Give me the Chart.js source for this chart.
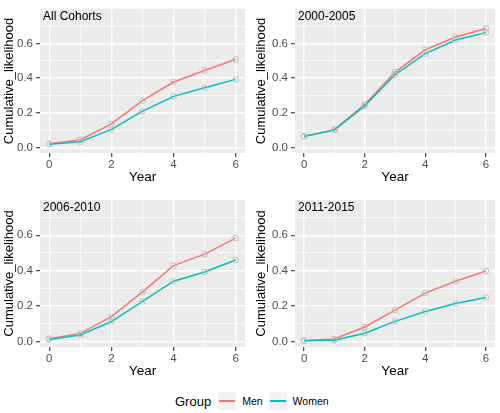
<!DOCTYPE html>
<html>
<head>
<meta charset="utf-8">
<script src="https://cdn.jsdelivr.net/npm/chart.js@4"></script>
<style>
    body { margin: 0; background: #fff; }
    #wrap { position: relative; width: 500px; height: 413px; overflow: hidden; font-family: 'Liberation Sans', Arial, sans-serif; }
    canvas { position: absolute; }
    #legend { position: absolute; left: 175px; top: 392px; height: 18px; display: flex; align-items: center; }
    #legend .ttl { font-size: 13px; color: #000; margin-right: 7px; }
    #legend .key { width: 18px; height: 18px; background: #F2F2F2; position: relative; margin-right: 6px; }
    #legend .key span { position: absolute; left: 1px; right: 1px; top: 8px; height: 1.6px; }
    #legend .lbl { font-size: 10.5px; color: #000; margin-right: 6px; }
</style>
</head>
<body>
<div id="wrap">
    <canvas id="c1" width="250" height="191" style="left:0;top:-1px"></canvas>
    <canvas id="c2" width="250" height="191" style="left:250px;top:-1px"></canvas>
    <canvas id="c3" width="250" height="194" style="left:0;top:190px"></canvas>
    <canvas id="c4" width="250" height="194" style="left:250px;top:190px"></canvas>
    <div id="legend">
        <span class="ttl">Group</span>
        <span class="key"><span style="background:#F8766D"></span></span><span class="lbl">Men</span>
        <span class="key"><span style="background:#00BFC4"></span></span><span class="lbl">Women</span>
    </div>
</div>
<script>
const years = [0, 1, 2, 3, 4, 5, 6];
const xTicks = [0, 1, 2, 3, 4, 5, 6];
const yTicks = [0, 0.1, 0.2, 0.3, 0.4, 0.5, 0.6, 0.7];

const allMen = [0.022, 0.045, 0.136, 0.27, 0.378, 0.444, 0.509];
const allWomen = [0.018, 0.033, 0.104, 0.21, 0.295, 0.345, 0.393];

const men0005 = [0.063, 0.103, 0.248, 0.434, 0.564, 0.638, 0.687];
const women0005 = [0.065, 0.100, 0.240, 0.420, 0.542, 0.620, 0.663];

const men0610 = [0.015, 0.045, 0.14, 0.28, 0.428, 0.493, 0.584];
const women0610 = [0.011, 0.036, 0.112, 0.226, 0.34, 0.392, 0.46];

const men1115 = [0.005, 0.013, 0.081, 0.177, 0.273, 0.34, 0.398];
const women1115 = [0.004, 0.006, 0.046, 0.113, 0.169, 0.214, 0.248];

const FONT = "'Liberation Sans', Arial, sans-serif";

const panelBg = {
    id: 'panelBg',
    beforeDraw(chart) {
        const a = chart.chartArea;
        const ctx = chart.ctx;
        ctx.save();
        ctx.fillStyle = '#EBEBEB';
        ctx.fillRect(a.left, a.top, a.width, a.height);
        ctx.restore();
    },
    afterDatasetsDraw(chart, args, opts) {
        const ctx = chart.ctx;
        ctx.save();
        ctx.font = '12px ' + FONT;
        ctx.fillStyle = '#000';
        ctx.textBaseline = 'middle';
        ctx.fillText(opts.text, chart.chartArea.left + 3, chart.scales.y.getPixelForValue(0.757));
        ctx.restore();
    }
};

function makePanel(id, title, men, women, leftWidth, titlePad, padRight, padTop) {
    const toPoints = vals => years.map((yr, i) => ({x: yr, y: vals[i]}));
    const lineSet = (label, vals, color, order) => ({
        label: label,
        data: toPoints(vals),
        borderColor: color,
        borderWidth: 1.5,
        pointRadius: 2.8,
        pointBorderWidth: 1,
        pointBorderColor: '#BDBDBD',
        pointBackgroundColor: 'rgba(0,0,0,0)',
        tension: 0,
        order: order
    });

    new Chart(document.getElementById(id), {
        type: 'line',
        data: {
            datasets: [
                lineSet('Men', men, '#F8766D', 1),
                lineSet('Women', women, '#00BFC4', 0)
            ]
        },
        options: {
            responsive: false,
            animation: false,
            layout: {padding: {left: 0, right: padRight, top: padTop, bottom: 0}},
            plugins: {
                legend: {display: false},
                tooltip: {enabled: false},
                panelBg: {text: title}
            },
            scales: {
                x: {
                    type: 'linear',
                    min: -0.3,
                    max: 6.3,
                    afterBuildTicks: axis => { axis.ticks = xTicks.map(v => ({value: v})); },
                    afterFit: axis => { axis.height = 37; },
                    border: {display: false},
                    grid: {
                        color: '#FFFFFF',
                        lineWidth: c => (c.tick && c.tick.value % 2 === 0) ? 1.4 : 0.7,
                        tickColor: c => (c.tick && c.tick.value % 2 === 0) ? '#333333' : 'rgba(0,0,0,0)',
                        tickWidth: 1.1,
                        tickLength: 4
                    },
                    ticks: {
                        autoSkip: false,
                        maxRotation: 0,
                        padding: 1,
                        color: '#4D4D4D',
                        font: {family: FONT, size: 11.5},
                        callback: v => v % 2 === 0 ? String(v) : ''
                    },
                    title: {
                        display: true,
                        text: 'Year',
                        color: '#000',
                        font: {family: FONT, size: 13.5},
                        padding: {top: 0, bottom: 5}
                    }
                },
                y: {
                    type: 'linear',
                    min: -0.032,
                    max: 0.8,
                    afterBuildTicks: axis => { axis.ticks = yTicks.map(v => ({value: v})); },
                    afterFit: axis => { axis.width = leftWidth; },
                    border: {display: false},
                    grid: {
                        color: '#FFFFFF',
                        lineWidth: c => (c.tick && Math.round(c.tick.value * 10) % 2 === 0) ? 1.4 : 0.7,
                        tickColor: c => (c.tick && Math.round(c.tick.value * 10) % 2 === 0) ? '#333333' : 'rgba(0,0,0,0)',
                        tickWidth: 1.1,
                        tickLength: 4
                    },
                    ticks: {
                        autoSkip: false,
                        padding: 3,
                        color: '#4D4D4D',
                        font: {family: FONT, size: 11.5},
                        callback: v => Math.round(v * 10) % 2 === 0 ? v.toFixed(1) : ''
                    },
                    title: {
                        display: true,
                        text: 'Cumulative_likelihood',
                        color: '#000',
                        font: {family: FONT, size: 13},
                        padding: {top: titlePad, bottom: 0}
                    }
                }
            }
        },
        plugins: [panelBg]
    });
}

makePanel('c1', 'All Cohorts', allMen, allWomen, 40, 2, 3, 0);
makePanel('c2', '2000-2005', men0005, women0005, 45, 4, 2, 0);
makePanel('c3', '2006-2010', men0610, women0610, 40, 2, 3, 4);
makePanel('c4', '2011-2015', men1115, women1115, 45, 4, 2, 4);
</script>
</body>
</html>
